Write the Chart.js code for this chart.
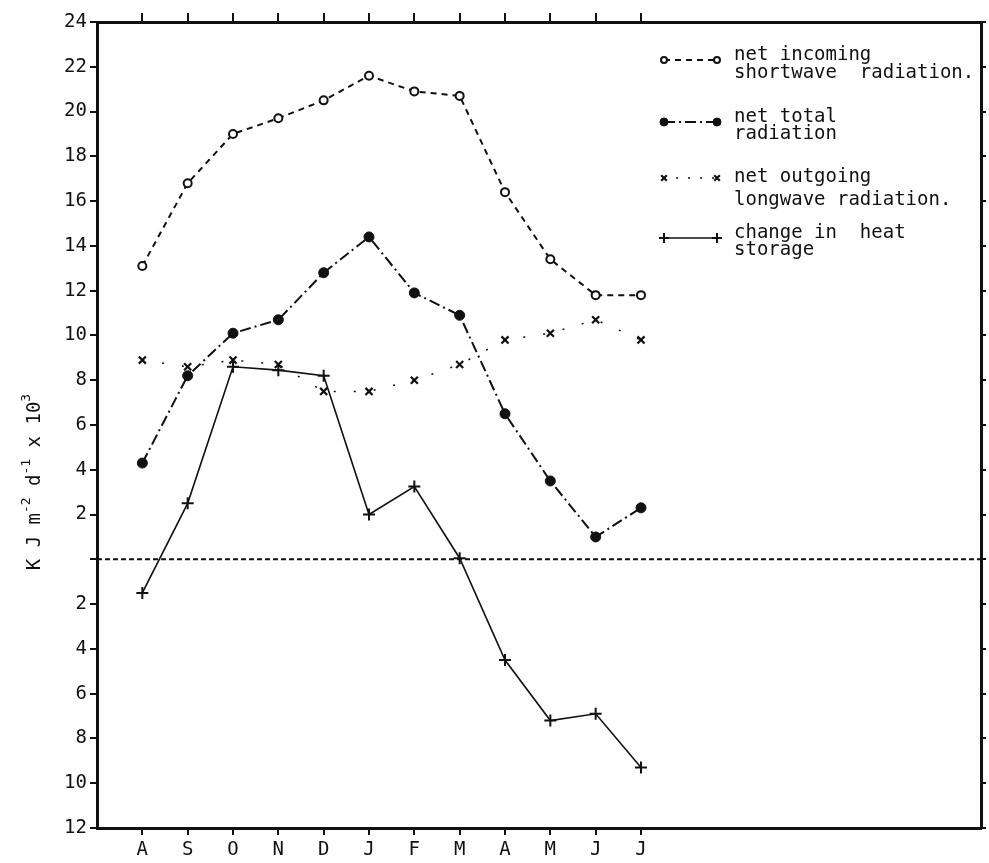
<!DOCTYPE html>
<html><head><meta charset="utf-8">
<script src="https://cdn.jsdelivr.net/npm/chart.js@4.4.0/dist/chart.umd.min.js"></script>
<style>html,body{margin:0;padding:0;background:#fff}</style>
</head><body>
<canvas id="c" width="989" height="863" style="width:989px;height:863px;display:block"></canvas>
<script>
// ---- data ----
const months = ['A','S','O','N','D','J','F','M','A','M','J','J'];
const shortwave   = [13.1,16.8,19.0,19.7,20.5,21.6,20.9,20.7,16.4,13.4,11.8,11.8];
const netTotal    = [4.3,8.2,10.1,10.7,12.8,14.4,11.9,10.9,6.5,3.5,1.0,2.3];
const longwave    = [8.9,8.6,8.9,8.7,7.5,7.5,8.0,8.7,9.8,10.1,10.7,9.8];
const heatStorage = [-1.5,2.5,8.6,8.45,8.2,2.0,3.25,0.05,-4.5,-7.2,-6.9,-9.3];
const yMin = -12, yMax = 24, yStep = 2;
const xMin = -1, xMax = 18.5;
const seriesNames = [
  ['net incoming','shortwave  radiation.'],
  ['net total','radiation'],
  ['net outgoing','longwave radiation.'],
  ['change in  heat','storage']
];
const yTitle = [['K J m','-2'],[' d','-1'],[' x 10','3']];

const INK = '#111';
const FONT = 'DejaVu Sans Mono';
const pts = arr => arr.map((v,i)=>({x:i,y:v}));

const styles = [
  {dash:[6,5], width:2, pointStyle:'circle', radius:4, bg:'#fff', pbw:2},
  {dash:[11,4,2,4], width:2, pointStyle:'circle', radius:5, bg:INK, pbw:1},
  {dash:[2,18], width:1.5, pointStyle:'crossRot', radius:5, bg:INK, pbw:2.2},
  {dash:[], width:1.6, pointStyle:'cross', radius:6, bg:INK, pbw:2}
];
const seriesData = [shortwave, netTotal, longwave, heatStorage];

const datasets = seriesData.map((d,i)=>({
  data: pts(d),
  borderColor: INK, borderWidth: styles[i].width, borderDash: styles[i].dash,
  pointStyle: styles[i].pointStyle, pointRadius: styles[i].radius,
  pointBackgroundColor: styles[i].bg, pointBorderColor: INK, pointBorderWidth: styles[i].pbw,
  fill:false, tension:0
}));
datasets.unshift({
  data:[{x:xMin,y:0},{x:xMax,y:0}], borderColor: INK, borderWidth:2, borderDash:[5,3],
  pointRadius:0, fill:false
});

const legendPlugin = {
  id:'customLegend',
  afterDraw(ch){
    const c = ch.ctx;
    const symY = [60,122,178,238];
    const txtY = [[55,73],[117,134],[177,200],[233,250]];
    const x1 = 664, x2 = 717, tx = 734;
    c.save();
    for(let i=0;i<4;i++){
      const s = styles[i];
      c.strokeStyle = INK; c.lineWidth = s.width; c.setLineDash(i===2?[2,10]:s.dash);
      c.beginPath(); c.moveTo(x1,symY[i]); c.lineTo(x2,symY[i]); c.stroke();
      c.setLineDash([]);
      [x1,x2].forEach(px=>{
        c.fillStyle = s.bg; c.strokeStyle = INK; c.lineWidth = s.pbw;
        Chart.helpers.drawPoint(c,{pointStyle:s.pointStyle, radius:s.radius-1, rotation:0, borderWidth:s.pbw},px,symY[i]);
      });
      c.fillStyle = INK; c.font = '19px "'+FONT+'"'; c.textBaseline='middle'; c.textAlign='left';
      seriesNames[i].forEach((t,j)=> c.fillText(t, tx, txtY[i][j]));
    }
    // y-axis title with superscripts
    c.translate(40, 482); c.rotate(-Math.PI/2);
    const mainF = '19px "'+FONT+'"', supF = '13px "'+FONT+'"';
    let total = 0;
    yTitle.forEach(([m,s])=>{ c.font=mainF; total+=c.measureText(m).width; c.font=supF; total+=c.measureText(s).width; });
    let x = -total/2;
    c.textBaseline='alphabetic'; c.fillStyle=INK;
    yTitle.forEach(([m,s])=>{
      c.font=mainF; c.fillText(m,x,0); x+=c.measureText(m).width;
      c.font=supF; c.fillText(s,x,-10); x+=c.measureText(s).width;
    });
    c.restore();
  }
};

const tickFont = {family:FONT, size:19};
const monthTicks = s => { s.ticks = months.map((m,i)=>({value:i})); };

new Chart(document.getElementById('c'), {
  type:'line',
  data:{datasets},
  options:{
    responsive:false, animation:false, devicePixelRatio:1,
    layout:{padding:0},
    plugins:{legend:{display:false}, tooltip:{enabled:false}},
    scales:{
      x:{type:'linear', position:'bottom', min:xMin, max:xMax,
        afterBuildTicks: monthTicks,
        ticks:{callback:v=>months[v]??'', font:tickFont, color:INK, padding:4, autoSkip:false, maxRotation:0},
        grid:{drawOnChartArea:false, tickLength:7, color:INK, lineWidth:2},
        border:{color:INK, width:3},
        afterFit:s=>{s.height=35;}},
      x2:{type:'linear', position:'top', min:xMin, max:xMax,
        afterBuildTicks: monthTicks,
        ticks:{callback:()=>'', autoSkip:false},
        grid:{drawOnChartArea:false, tickLength:9, color:INK, lineWidth:2},
        border:{color:INK, width:3},
        afterFit:s=>{s.height=22;}},
      y:{type:'linear', position:'left', min:yMin, max:yMax,
        ticks:{stepSize:yStep, callback:v=> v===0?'':String(Math.abs(v)), font:tickFont, color:INK, padding:3},
        grid:{drawOnChartArea:false, tickLength:7, color:INK, lineWidth:2},
        border:{color:INK, width:3},
        afterFit:s=>{s.width=97;}},
      y2:{type:'linear', position:'right', min:yMin, max:yMax,
        ticks:{stepSize:yStep, callback:()=>''},
        grid:{drawOnChartArea:false, tickLength:5, color:INK, lineWidth:2},
        border:{color:INK, width:3},
        afterFit:s=>{s.width=6;}}
    }
  },
  plugins:[legendPlugin]
});
</script>
</body></html>
